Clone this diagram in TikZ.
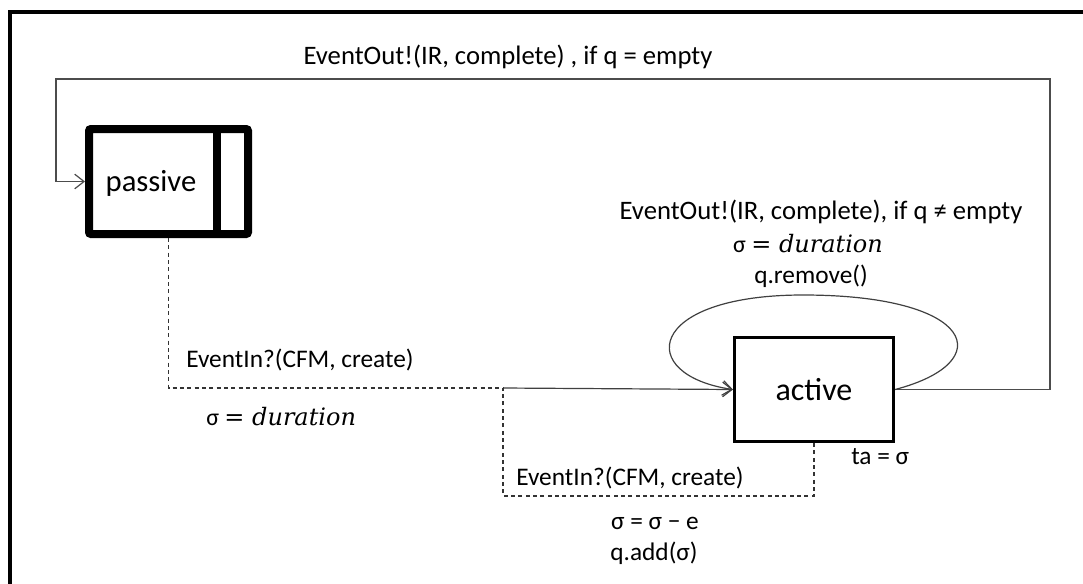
\documentclass[tikz,border=0pt]{standalone}
\usepackage{fontspec}
\setmainfont{Carlito}
\newfontfamily\dserif{DejaVu Serif}
\usetikzlibrary{arrows.meta}
\newcommand{\durexpr}{σ {\dserif = \itshape duration}}
\begin{document}
\begin{tikzpicture}[x=0.75pt,y=-0.75pt,
  lbl/.style={font=\fontsize{19}{23}\selectfont, inner sep=0pt},
  biglbl/.style={font=\fontsize{20}{24}\selectfont, inner sep=0pt},
  durlbl/.style={font=\fontsize{18}{22}\selectfont, inner sep=0pt},
  statebox/.style={draw=black, rectangle, inner sep=0pt},
  conn/.style={draw=black!70, line width=1.1pt},
  dconn/.style={draw=black!80, line width=0.8pt, dash pattern=on 3pt off 2.5pt},
  tip/.style={-{Straight Barb[length=7pt,width=11pt,line width=0.9pt]}}
]
\useasboundingbox (0,0) rectangle (1083,583);
% outer frame (left and top edges visible)
\draw[line width=3pt, line cap=rect] (9.5,583) -- (9.5,11.5) -- (1083,11.5);

% states
\node[statebox, line width=6pt, rounded corners=1.5pt, minimum width=159*0.75pt, minimum height=105*0.75pt] (passive) at (168.5,181.5) {};
\coordinate (div) at (217,0);
\draw[line width=6pt] (passive.north -| div) -- (passive.south -| div);
\node[font=\fontsize{23}{27}\selectfont, inner sep=0pt] (ptext) at (151,183) {passive};

\node[statebox, line width=2.4pt, minimum width=159*0.75pt, minimum height=104*0.75pt, font=\fontsize{24}{28}\selectfont] (active) at (814,389.5) {active};

% corner coordinates
\coordinate (tr) at (1050,79);
\coordinate (tl) at (56,79);
\coordinate (j) at (503,388);
\coordinate (pd) at (168.5,388);
\coordinate (ad) at (503,496);

% active -> passive (top loop)
\draw[conn, tip] (active.east) -- (active.east -| tr) -- (tr) -- (tl) -- (tl |- passive.west) -- (passive.west);

% self loop
\draw[draw=black!75, line width=0.9pt, tip] (active.east) .. controls (1000,362) and (975,295) .. (803,295) .. controls (645,295) and (635,375) .. (active.west);

% passive -> active (dashed then solid)
\draw[dconn] (passive.south) -- (pd) -- (j);
\draw[draw=black!75, line width=0.9pt, tip] (j) -- (active.west);
% active -> active via EventIn
\draw[dconn] (active.south) -- (active.south |- ad) -- (ad) -- (j);

% labels
\node[biglbl] (l1) at (508,57) {EventOut!(IR, complete) , if q = empty};
\node[biglbl] (l2) at (821,212) {EventOut!(IR, complete), if q ≠ empty};
\node[durlbl] (l3) at (808,244) {\durexpr};
\node[lbl] (l4) at (811,276) {q.remove()};
\node[lbl, anchor=west] (l5) at (186,360) {EventIn?(CFM, create)};
\node[durlbl, anchor=west] (l6) at (206,417) {\durexpr};
\node[lbl, anchor=west] (l7) at (851,457) {ta = σ};
\node[lbl, anchor=west] (l8) at (516,478) {EventIn?(CFM, create)};
\node[lbl] (l9) at (655,523) {σ = σ − e};
\node[lbl] (l10) at (654,553) {q.add(σ)};
\end{tikzpicture}
\end{document}
